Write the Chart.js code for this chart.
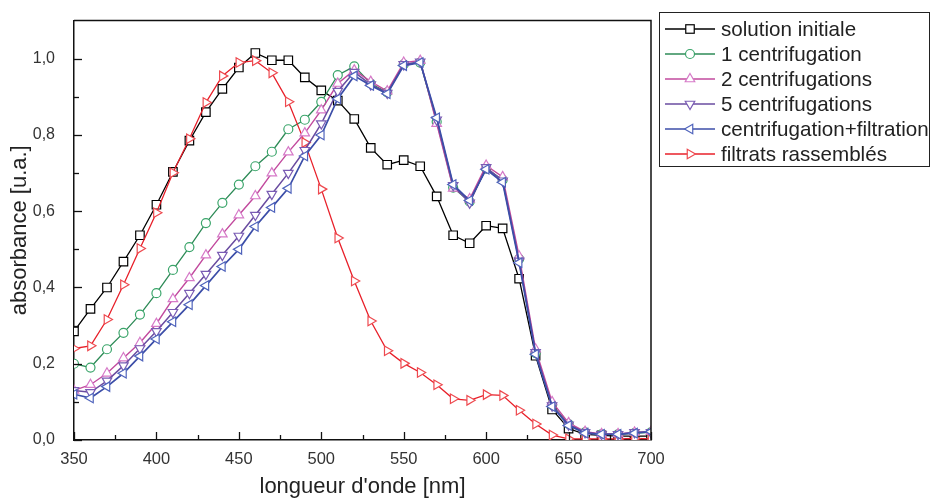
<!DOCTYPE html>
<html><head><meta charset="utf-8">
<script src="https://cdn.jsdelivr.net/npm/chart.js@4/dist/chart.umd.min.js"></script>
<style>
html,body{margin:0;padding:0;background:#fff;}
#wrap{position:relative;width:930px;height:500px;}
#legend{position:absolute;left:659px;top:12px;width:271px;height:155px;border:1px solid #222;box-sizing:border-box;font-family:"Liberation Sans",Arial,sans-serif;font-size:20.6px;color:#222;padding-top:3px}
.row{height:25px;display:flex;align-items:center;white-space:nowrap}
.row svg{margin-left:5px;margin-right:6px;flex:none}
</style></head><body>
<div id="wrap"><canvas id="c" width="930" height="500"></canvas><div id="legend"></div></div>
<script>
const wavelengths = [350,360,370,380,390,400,410,420,430,440,450,460,470,480,490,500,510,520,530,540,550,560,570,580,590,600,610,620,630,640,650,660,670,680,690,700];
const seriesNames = ["solution initiale","1 centrifugation","2 centrifugations","5 centrifugations","centrifugation+filtration","filtrats rassemblés"];
const solutionInitiale = [0.285,0.344,0.400,0.468,0.537,0.617,0.703,0.785,0.860,0.921,0.977,1.015,0.996,0.996,0.951,0.917,0.890,0.842,0.766,0.722,0.734,0.718,0.639,0.537,0.516,0.562,0.555,0.423,0.221,0.080,0.030,0.015,0.012,0.010,0.010,0.010];
const centrifugation1 = [0.200,0.190,0.238,0.281,0.329,0.385,0.446,0.506,0.569,0.622,0.670,0.718,0.756,0.815,0.840,0.887,0.957,0.980,0.935,0.912,0.985,0.990,0.835,0.662,0.625,0.712,0.682,0.475,0.228,0.092,0.042,0.020,0.015,0.015,0.018,0.020];
const centrifugations2 = [0.130,0.145,0.175,0.215,0.255,0.305,0.370,0.425,0.485,0.540,0.590,0.640,0.700,0.755,0.805,0.865,0.935,0.970,0.940,0.915,0.990,0.995,0.830,0.660,0.632,0.720,0.690,0.482,0.238,0.100,0.045,0.022,0.016,0.016,0.020,0.022];
const centrifugations5 = [0.130,0.125,0.155,0.195,0.240,0.285,0.335,0.385,0.435,0.485,0.535,0.590,0.645,0.700,0.760,0.830,0.915,0.965,0.932,0.910,0.985,0.992,0.840,0.668,0.622,0.715,0.680,0.470,0.230,0.090,0.040,0.020,0.015,0.015,0.020,0.020];
const centrifFiltration = [0.120,0.110,0.140,0.175,0.220,0.265,0.310,0.355,0.405,0.455,0.500,0.560,0.610,0.660,0.745,0.800,0.895,0.955,0.930,0.908,0.982,0.990,0.845,0.670,0.628,0.710,0.676,0.465,0.225,0.088,0.038,0.018,0.015,0.015,0.018,0.022];
const filtratsRassembles = [0.240,0.247,0.316,0.407,0.502,0.596,0.701,0.790,0.885,0.955,0.990,0.995,0.963,0.887,0.780,0.658,0.530,0.417,0.312,0.234,0.201,0.177,0.145,0.108,0.104,0.119,0.117,0.078,0.042,0.013,0.003,0.003,0.003,0.003,0.004,0.003];
const xTicks = {min:350, max:700, step:25, labelStep:50};
const yTicks = {min:0, max:1.1, step:0.1};

const styles = [
  {color:'#000000', marker:'#000000', shape:'rect', rot:0, r:6, w:1.3, order:5},
  {color:'#2e8b57', marker:'#3aa56a', shape:'circle', rot:0, r:4.5, w:1.3, order:4},
  {color:'#c24a9e', marker:'#d67ac8', shape:'triangle', rot:0, r:5.5, w:1.4, order:2},
  {color:'#6a4ca0', marker:'#7a5cb4', shape:'triangle', rot:180, r:5.5, w:1.5, order:1},
  {color:'#3c4ea8', marker:'#5064bc', shape:'triangle', rot:270, r:5.5, w:1.7, order:0},
  {color:'#e8202a', marker:'#ee4a50', shape:'triangle', rot:90, r:5.5, w:1.3, order:3}
];
const values = [solutionInitiale, centrifugation1, centrifugations2, centrifugations5, centrifFiltration, filtratsRassembles];

const datasets = values.map((vals,i)=>({
  label: seriesNames[i],
  data: wavelengths.map((w,j)=>({x:w, y:vals[j]})),
  order: styles[i].order,
  borderColor: styles[i].color,
  borderWidth: styles[i].w,
  pointStyle: styles[i].shape,
  pointRotation: styles[i].rot,
  pointRadius: styles[i].r,
  pointBorderColor: styles[i].marker,
  pointBackgroundColor: '#ffffff',
  pointBorderWidth: 1.2,
  tension: 0,
  fill: false
}));

const FONT = '"Liberation Sans", Arial, sans-serif';

const frameTicks = {
  id:'frameTicks',
  afterDraw(chart){
    const {ctx, chartArea:a, scales:{x,y}} = chart;
    ctx.save();
    ctx.strokeStyle='#111'; ctx.lineWidth=1.5;
    ctx.beginPath(); ctx.moveTo(a.left,a.top); ctx.lineTo(a.right,a.top); ctx.lineTo(a.right,a.bottom); ctx.stroke();
    ctx.lineWidth=1.3;
    x.ticks.forEach(t=>{
      const px = Math.round(x.getPixelForValue(t.value))+0.5;
      const len = (t.value % xTicks.labelStep === 0) ? 8 : 5;
      ctx.beginPath(); ctx.moveTo(px,a.bottom); ctx.lineTo(px,a.bottom-len); ctx.stroke();
    });
    y.ticks.forEach(t=>{
      if (t.value > 1.05) return;
      const py = Math.round(y.getPixelForValue(t.value))+0.5;
      const len = (Math.round(t.value*10)%2===0) ? 8 : 5;
      ctx.beginPath(); ctx.moveTo(a.left,py); ctx.lineTo(a.left+len,py); ctx.stroke();
    });
    ctx.restore();
  }
};

new Chart(document.getElementById('c'), {
  type:'line',
  data:{datasets},
  options:{
    responsive:false, animation:false, devicePixelRatio:1,
    layout:{padding:{left:0, top:16, right:279, bottom:0}},
    plugins:{legend:{display:false}, tooltip:{enabled:false}},
    scales:{
      x:{type:'linear', min:xTicks.min, max:xTicks.max,
        ticks:{stepSize:xTicks.step, autoSkip:false, maxRotation:0, padding:2, color:'#333', font:{family:FONT,size:16.5},
          callback:v=> (v % xTicks.labelStep === 0) ? String(v) : ''},
        grid:{display:false}, border:{display:true, color:'#111', width:1.5},
        title:{display:true, text:"longueur d'onde [nm]", color:'#222', font:{family:FONT,size:22}, padding:{top:0,bottom:0}},
        afterFit(s){ s.height = 60; }
      },
      y:{type:'linear', min:yTicks.min, max:yTicks.max,
        ticks:{stepSize:yTicks.step, autoSkip:false, padding:11, color:'#333', font:{family:FONT,size:16},
          callback:v=>{ const k=Math.round(v*10); return (k%2===0 && k<=10) ? (k/10).toFixed(1).replace('.',',') : ''; }},
        grid:{display:false}, border:{display:true, color:'#111', width:1.5},
        title:{display:true, text:'absorbance [u.a.]', color:'#222', font:{family:FONT,size:22}, padding:7},
        afterFit(s){ s.width = 74; }
      }
    }
  },
  plugins:[frameTicks]
});

// HTML legend built from the dataset styles
function markerSvg(st, cx, cy){
  if (st.shape==='rect'){ const h=st.r*Math.SQRT1_2; return `<rect x="${cx-h}" y="${cy-h}" width="${2*h}" height="${2*h}" fill="#fff" stroke="${st.marker}" stroke-width="1.2"/>`; }
  if (st.shape==='circle'){ return `<circle cx="${cx}" cy="${cy}" r="${st.r}" fill="#fff" stroke="${st.marker}" stroke-width="1.2"/>`; }
  let rad = st.rot*Math.PI/180, pts=[];
  for (let k=0;k<3;k++){ pts.push((cx+Math.sin(rad)*st.r).toFixed(2)+','+(cy-Math.cos(rad)*st.r).toFixed(2)); rad += 2*Math.PI/3; }
  return `<polygon points="${pts.join(' ')}" fill="#fff" stroke="${st.marker}" stroke-width="1.2"/>`;
}
const leg = document.getElementById('legend');
seriesNames.forEach((n,i)=>{
  const st = styles[i];
  const row = document.createElement('div'); row.className='row';
  row.innerHTML = `<svg width="50" height="14" viewBox="0 0 50 14"><line x1="0" y1="7" x2="50" y2="7" stroke="${st.color}" stroke-width="1.6"/>${markerSvg(st,25,7)}</svg><span>${n}</span>`;
  leg.appendChild(row);
});
</script>
</body></html>
